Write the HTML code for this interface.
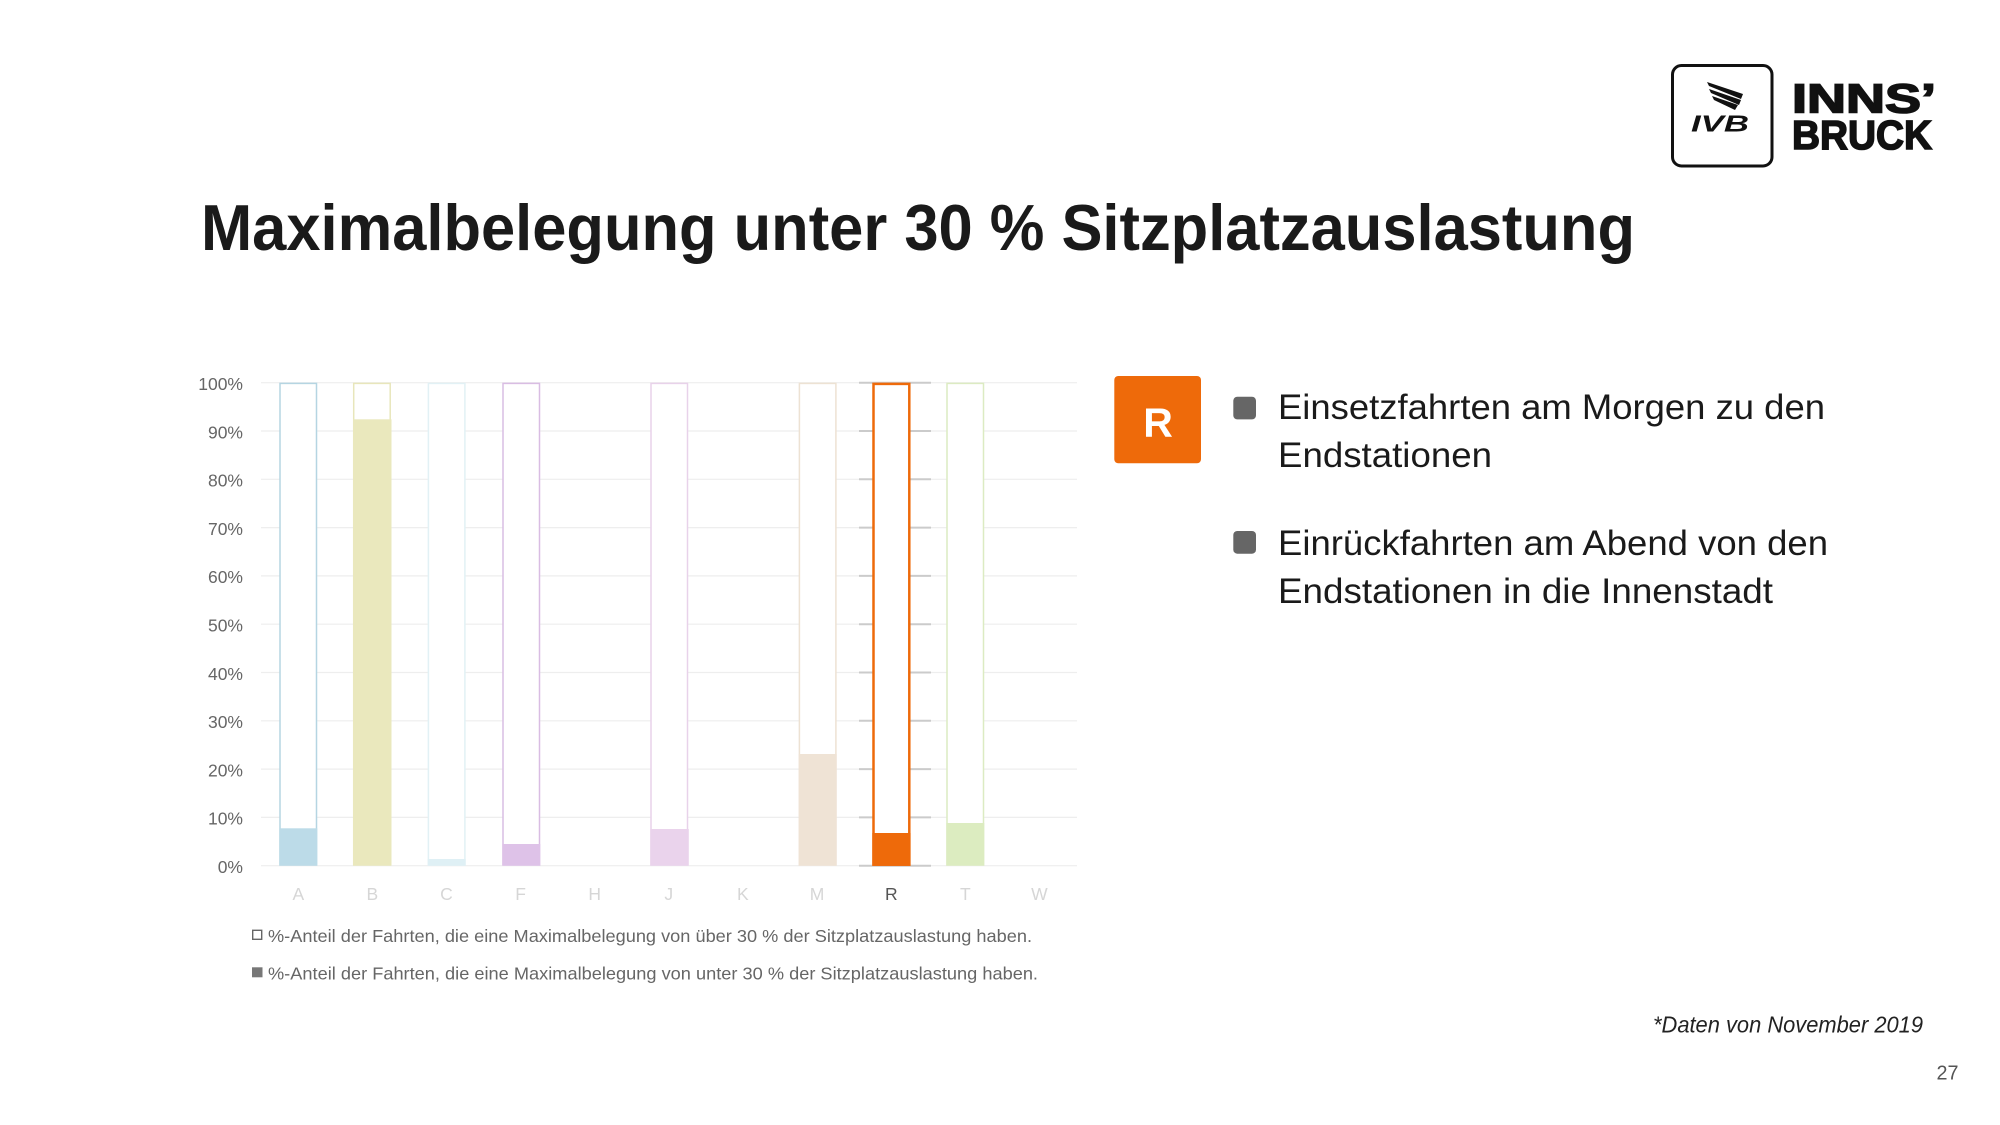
<!DOCTYPE html>
<html>
<head>
<meta charset="utf-8">
<style>
html,body{margin:0;padding:0;background:#fff;}
svg{display:block;}
</style>
</head>
<body>
<svg width="2000" height="1125" viewBox="0 0 2000 1125" xmlns="http://www.w3.org/2000/svg" font-family="'Liberation Sans', sans-serif">
  <rect x="0" y="0" width="2000" height="1125" fill="#ffffff"/>

  <!-- Logo -->
  <rect x="1672.5" y="65.5" width="99.5" height="100.5" rx="9" ry="9" fill="#fff" stroke="#111" stroke-width="3"/>
  <polygon points="1707,82 1743,94 1741,99 1709,86" fill="#111"/>
  <polygon points="1709,89 1741,100 1739,105 1711,93" fill="#111"/>
  <polygon points="1712,96 1738,105 1735,110 1714,100" fill="#111"/>
  <text x="1691" y="131.5" font-size="23" font-weight="bold" font-style="italic" fill="#111" textLength="58" lengthAdjust="spacingAndGlyphs">IVB</text>
  <text x="1792" y="112.3" font-size="41" font-weight="bold" fill="#111" stroke="#111" stroke-width="1.6" textLength="144" lengthAdjust="spacingAndGlyphs">INNS’</text>
  <text x="1792" y="149" font-size="41" font-weight="bold" fill="#111" stroke="#111" stroke-width="1.6" textLength="140" lengthAdjust="spacingAndGlyphs">BRUCK</text>

  <!-- Title -->
  <text x="201" y="250" font-size="65" font-weight="bold" fill="#1a1a1a" textLength="1434" lengthAdjust="spacingAndGlyphs">Maximalbelegung unter 30 % Sitzplatzauslastung</text>

  <!-- Gridlines -->
  <g stroke="#eeeeee" stroke-width="1.2">
    <line x1="261" y1="382.7" x2="1077" y2="382.7"/>
    <line x1="261" y1="431" x2="1077" y2="431"/>
    <line x1="261" y1="479.3" x2="1077" y2="479.3"/>
    <line x1="261" y1="527.6" x2="1077" y2="527.6"/>
    <line x1="261" y1="575.9" x2="1077" y2="575.9"/>
    <line x1="261" y1="624.2" x2="1077" y2="624.2"/>
    <line x1="261" y1="672.5" x2="1077" y2="672.5"/>
    <line x1="261" y1="720.8" x2="1077" y2="720.8"/>
    <line x1="261" y1="769.1" x2="1077" y2="769.1"/>
    <line x1="261" y1="817.4" x2="1077" y2="817.4"/>
    <line x1="261" y1="865.7" x2="1077" y2="865.7"/>
  </g>
  <!-- highlighted grid segments around R -->
  <g stroke="#cbcbcb" stroke-width="2">
    <line x1="859" y1="382.7" x2="931" y2="382.7"/>
    <line x1="859" y1="431" x2="931" y2="431"/>
    <line x1="859" y1="479.3" x2="931" y2="479.3"/>
    <line x1="859" y1="527.6" x2="931" y2="527.6"/>
    <line x1="859" y1="575.9" x2="931" y2="575.9"/>
    <line x1="859" y1="624.2" x2="931" y2="624.2"/>
    <line x1="859" y1="672.5" x2="931" y2="672.5"/>
    <line x1="859" y1="720.8" x2="931" y2="720.8"/>
    <line x1="859" y1="769.1" x2="931" y2="769.1"/>
    <line x1="859" y1="817.4" x2="931" y2="817.4"/>
    <line x1="859" y1="865.7" x2="931" y2="865.7"/>
  </g>

  <!-- Y axis labels -->
  <g font-size="17.5" fill="#666" text-anchor="end">
    <text x="243" y="390">100%</text>
    <text x="243" y="438.3">90%</text>
    <text x="243" y="486.6">80%</text>
    <text x="243" y="534.9">70%</text>
    <text x="243" y="583.2">60%</text>
    <text x="243" y="631.5">50%</text>
    <text x="243" y="679.8">40%</text>
    <text x="243" y="728.1">30%</text>
    <text x="243" y="776.4">20%</text>
    <text x="243" y="824.7">10%</text>
    <text x="243" y="873">0%</text>
  </g>

  <!-- Bars -->
  <!-- A -->
  <rect x="280" y="383.4" width="36.5" height="481.5" fill="#fff" stroke="#b5d5e2" stroke-width="1.5"/>
  <rect x="279.3" y="828.3" width="38" height="37.4" fill="#bcdbe8"/>
  <!-- B -->
  <rect x="353.7" y="383.4" width="36.5" height="481.5" fill="#fff" stroke="#e8e6bb" stroke-width="1.5"/>
  <rect x="353" y="419.3" width="38.5" height="446.4" fill="#eae8bd"/>
  <!-- C -->
  <rect x="428.4" y="383.4" width="36.5" height="481.5" fill="#fff" stroke="#e2f1f5" stroke-width="1.5"/>
  <rect x="427.7" y="859" width="38" height="6.7" fill="#dff0f5"/>
  <!-- F -->
  <rect x="503" y="383.4" width="36.5" height="481.5" fill="#fff" stroke="#d9bde3" stroke-width="1.5"/>
  <rect x="502.3" y="844" width="38" height="21.7" fill="#dec2e8"/>
  <!-- J -->
  <rect x="651" y="383.4" width="36.5" height="481.5" fill="#fff" stroke="#e8d2ea" stroke-width="1.5"/>
  <rect x="650.3" y="829" width="38.5" height="36.7" fill="#ead3ec"/>
  <!-- M -->
  <rect x="799.4" y="383.4" width="36.5" height="481.5" fill="#fff" stroke="#ede2d3" stroke-width="1.5"/>
  <rect x="798.7" y="754" width="38" height="111.7" fill="#efe3d5"/>
  <!-- R -->
  <rect x="873.5" y="383.9" width="35.8" height="480.8" fill="#fff" stroke="#ee6a0a" stroke-width="2.5"/>
  <rect x="872.3" y="833" width="38.3" height="32.7" fill="#ee6a0a"/>
  <!-- T -->
  <rect x="947" y="383.4" width="36.5" height="481.5" fill="#fff" stroke="#dcebc2" stroke-width="1.5"/>
  <rect x="946.3" y="823" width="38" height="42.7" fill="#dcecc0"/>

  <!-- Category labels -->
  <g font-size="17.5" fill="#d6d6d6" text-anchor="middle">
    <text x="298.3" y="900">A</text>
    <text x="372.4" y="900">B</text>
    <text x="446.5" y="900">C</text>
    <text x="520.6" y="900">F</text>
    <text x="594.7" y="900">H</text>
    <text x="668.8" y="900">J</text>
    <text x="742.9" y="900">K</text>
    <text x="817" y="900">M</text>
    <text x="891.3" y="900" fill="#555">R</text>
    <text x="965.3" y="900">T</text>
    <text x="1039.4" y="900">W</text>
  </g>

  <!-- Legend -->
  <rect x="252.7" y="930.3" width="9" height="9" fill="#fff" stroke="#666" stroke-width="1.4"/>
  <text x="268" y="942" font-size="17.5" fill="#666" textLength="764" lengthAdjust="spacingAndGlyphs">%-Anteil der Fahrten, die eine Maximalbelegung von über 30 % der Sitzplatzauslastung haben.</text>
  <rect x="252" y="967.3" width="10.5" height="10" fill="#777"/>
  <text x="268" y="979.3" font-size="17.5" fill="#666" textLength="770" lengthAdjust="spacingAndGlyphs">%-Anteil der Fahrten, die eine Maximalbelegung von unter 30 % der Sitzplatzauslastung haben.</text>

  <!-- R badge -->
  <rect x="1114.3" y="376" width="86.7" height="87.3" rx="4" ry="4" fill="#ee6a0a"/>
  <text x="1158" y="436.7" font-size="41" font-weight="bold" fill="#fff" text-anchor="middle">R</text>

  <!-- Bullets -->
  <rect x="1233.3" y="396.7" width="22.7" height="22.7" rx="4" ry="4" fill="#666"/>
  <rect x="1233.3" y="531" width="22.7" height="22.7" rx="4" ry="4" fill="#666"/>
  <g font-size="35" fill="#1a1a1a">
    <text x="1278" y="419" textLength="547" lengthAdjust="spacingAndGlyphs">Einsetzfahrten am Morgen zu den</text>
    <text x="1278" y="467" textLength="214" lengthAdjust="spacingAndGlyphs">Endstationen</text>
    <text x="1278" y="555" textLength="550" lengthAdjust="spacingAndGlyphs">Einrückfahrten am Abend von den</text>
    <text x="1278" y="603" textLength="495" lengthAdjust="spacingAndGlyphs">Endstationen in die Innenstadt</text>
  </g>

  <!-- Footnote -->
  <text x="1653" y="1032.7" font-size="23" font-style="italic" fill="#222" textLength="270" lengthAdjust="spacingAndGlyphs">*Daten von November 2019</text>
  <text x="1936.5" y="1079.3" font-size="20" fill="#555" textLength="22" lengthAdjust="spacingAndGlyphs">27</text>
</svg>
</body>
</html>
